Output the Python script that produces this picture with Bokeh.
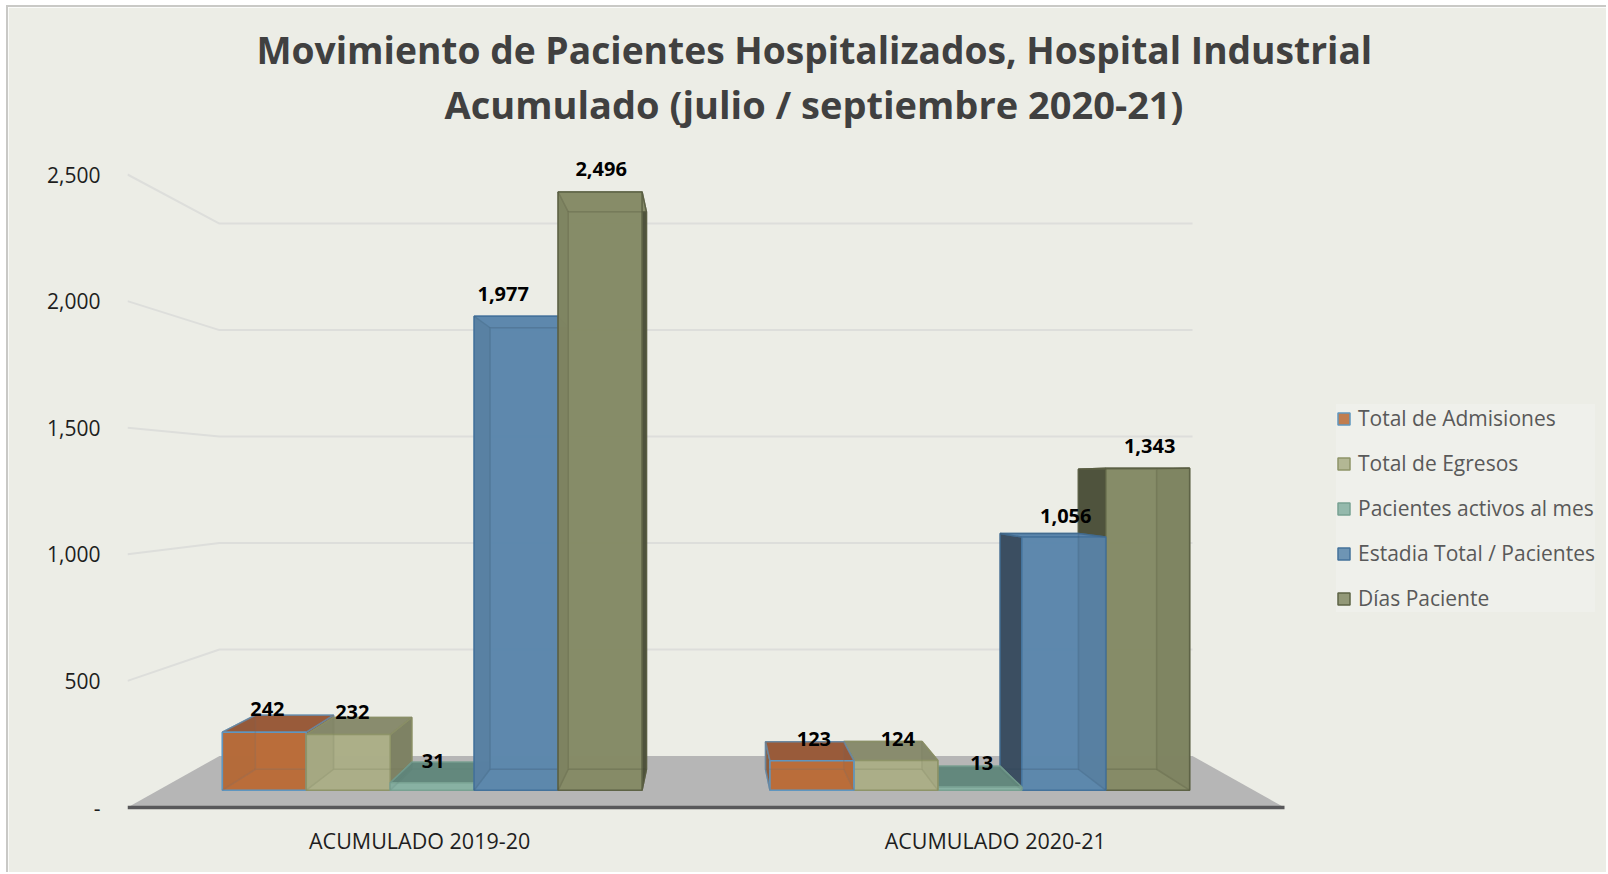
from bokeh.plotting import figure
from bokeh.models import Range1d, FixedTicker, Legend, LegendItem, Title
from bokeh.core.properties import value
from bokeh.embed import file_html
from bokeh.resources import INLINE

categories = ["ACUMULADO 2019-20", "ACUMULADO 2020-21"]
series_names = ["Total de Admisiones", "Total de Egresos", "Pacientes activos al mes",
                "Estadia Total / Pacientes", "Días Paciente"]
total_admisiones = [242, 123]
total_egresos = [232, 124]
pacientes_activos = [31, 13]
estadia_total = [1977, 1056]
dias_paciente = [2496, 1343]
series_values = [total_admisiones, total_egresos, pacientes_activos, estadia_total, dias_paciente]
y_ticks = [0, 500, 1000, 1500, 2000, 2500]
y_tick_labels = ["-", "500", "1,000", "1,500", "2,000", "2,500"]
title_line_1 = "Movimiento de Pacientes Hospitalizados, Hospital Industrial"
title_line_2 = "Acumulado (julio / septiembre 2020-21)"

BG = "#ECEDE6"
FONT = "Open Sans"
near_col = ["#BA6C39", "#ABAE87", "#88B0A3", "#5C87AC", "#858B66"]
top_col = ["#96593A", "#85896B", "#5F8479", "#5C87AC", "#8A8F6E"]
side_col = ["#8A5A3A", "#7A7E61", "#5F8479", "#37495A", "#4A4D38"]
line_col = ["#5F96C0", "#8E9468", "#78A192", "#44729B", "#5E6346"]

# layout of the pseudo-3D scene
FIG_L, FIG_T = 6, 5
FRAME_L, FRAME_R, FRAME_T, FRAME_B = 127, 1608, 130, 810   # page px
UNIT_X = 578.5       # px per category
UNIT_Y = 0.2532      # px per value on the front plane
Y0_PX = 807
VX, VY = 1.0, 1280.0  # vanishing point
S_BACK, S_NEAR, S_FAR = 0.841, 0.9465, 0.882
BAR_W = 0.1533
TICK_NUDGE = [0.005, 0.0]


def pr(x, v, s):
    return VX + (x - VX) * s, VY + (v - VY) * s


def poly(*pts):
    return [p[0] for p in pts], [p[1] for p in pts]


p = figure(width=1600, height=867, output_backend="svg", toolbar_location=None,
           x_range=Range1d(0, (FRAME_R - FRAME_L) / UNIT_X),
           y_range=Range1d((Y0_PX - FRAME_B) / UNIT_Y, (Y0_PX - FRAME_T) / UNIT_Y),
           min_border_left=FRAME_L - FIG_L - 2, min_border_right=0,
           min_border_top=FRAME_T - FIG_T - 2, min_border_bottom=874 - FRAME_B,
           background_fill_color=BG, border_fill_color=BG,
           outline_line_color=BG, outline_line_width=2,
           margin=(FIG_T, 0, 0, FIG_L))
p.styles = {"border-left": "2px solid #C9C9C6", "border-top": "2px solid #C9C9C6"}
p.grid.visible = False

for txt, off, so, fs in ((title_line_2, 444 - FRAME_L, 1, "38px"), (title_line_1, 256 - FRAME_L, 2, "37.2px")):
    p.add_layout(Title(text=txt, align="left", offset=off, text_font=FONT, text_font_size=fs,
                       text_font_style="bold", text_color="#404040", standoff=so), "above")

# axes
xa = p.xaxis[0]
x_tick_pos = [i + 0.5 + TICK_NUDGE[i] for i in range(len(categories))]
xa.ticker = FixedTicker(ticks=x_tick_pos)
xa.major_label_overrides = dict(zip(x_tick_pos, categories))
xa.axis_line_color = None
xa.major_tick_line_color = None
xa.minor_tick_line_color = None
xa.major_label_standoff = 9
xa.major_label_text_font = FONT
xa.major_label_text_font_size = "21.5px"
xa.major_label_text_color = "#1E1E1E"

ya = p.yaxis[0]
ya.ticker = FixedTicker(ticks=y_ticks)
ya.major_label_overrides = dict(zip(y_ticks, y_tick_labels))
ya.axis_line_color = None
ya.major_tick_line_color = None
ya.minor_tick_line_color = None
ya.major_label_standoff = 21
ya.major_label_text_font = FONT
ya.major_label_text_font_size = "21px"
ya.major_label_text_color = "#1E1E1E"

# floor
fx, fy = poly(pr(0, 0, 1), pr(2, 0, 1), pr(2, 0, S_BACK), pr(0, 0, S_BACK))
p.patch(fx, fy, fill_color="#B6B6B6", line_color=None)

# wall gridlines
for v in y_ticks[1:]:
    gx, gy = poly(pr(0, v, 1), pr(0, v, S_BACK), pr(2, v, S_BACK))
    p.line(gx, gy, line_color="#DDDEDB", line_width=2)

# front axis line
p.line([0, 2], [0, 0], line_color="#58585A", line_width=3.5)

# bars
legend_r = [None] * 5
for g in range(2):
    order = range(5) if g == 0 else range(4, -1, -1)
    for i in order:
        val = series_values[i][g]
        x0 = g + 0.5 + (i - 2.5) * BAR_W
        x1 = x0 + BAR_W
        n = [pr(x0, 0, S_NEAR), pr(x1, 0, S_NEAR), pr(x1, val, S_NEAR), pr(x0, val, S_NEAR)]
        f = [pr(x0, 0, S_FAR), pr(x1, 0, S_FAR), pr(x1, val, S_FAR), pr(x0, val, S_FAR)]
        faces = [
            (poly(*f), near_col[i]),
            (poly(n[0], n[1], f[1], f[0]), near_col[i]),
            (poly(n[0], n[3], f[3], f[0]), side_col[i]),
            (poly(n[1], n[2], f[2], f[1]), side_col[i]),
            (poly(n[3], n[2], f[2], f[3]), top_col[i]),
        ]
        for (xs, ys), col in faces:
            p.patch(xs, ys, fill_color=col, fill_alpha=0.92, line_color=line_col[i], line_width=1.5, line_alpha=0.8)
        xs, ys = poly(*n)
        r = p.patch(xs, ys, fill_color=near_col[i], fill_alpha=0.88, line_color=line_col[i], line_width=1.5)
        # inner edges seen through the translucent front
        inner_x, inner_y = poly(f[0], f[1], f[2], f[3], f[0])
        p.line(inner_x, inner_y, line_color=side_col[i], line_alpha=0.2, line_width=1.5)
        for a, b in zip(n, f):
            ex, ey = poly(a, b)
            p.line(ex, ey, line_color=side_col[i], line_alpha=0.2, line_width=1.5)
        if g == 0:
            legend_r[i] = r

# data labels
lab_dx = [[3, 4, 1, -13, 1], [2, 2, 2, 2, 2]]
lab_dy = [[-6, -5, -1, -22, -23], [-3, -3, -3, -17, -22]]
for g in range(2):
    for i in range(5):
        val = series_values[i][g]
        xc = g + 0.5 + (i - 2) * BAR_W
        xn, yn = pr(xc, val, S_NEAR)
        xf, yf = pr(xc, val, S_FAR)
        p.text([xn], [max(yn, yf)], text=[f"{val:,}"], text_font=value(FONT), text_font_size="20px",
               text_font_style="bold", text_color="#000000", text_align="center", text_baseline="middle",
               x_offset=lab_dx[g][i], y_offset=lab_dy[g][i])

legend = Legend(items=[LegendItem(label=n, renderers=[legend_r[i]]) for i, n in enumerate(series_names)],
                location=(1336 - FRAME_L, FRAME_B - 612), orientation="vertical",
                label_text_font=FONT, label_text_font_size="21px", label_text_color="#595959",
                background_fill_color="#EFF0EB", background_fill_alpha=1, border_line_color=None,
                glyph_width=15, glyph_height=15, label_standoff=7, spacing=17, padding=17, margin=0)
p.add_layout(legend, "center")

open("out.html", "w").write(file_html(p, INLINE))
